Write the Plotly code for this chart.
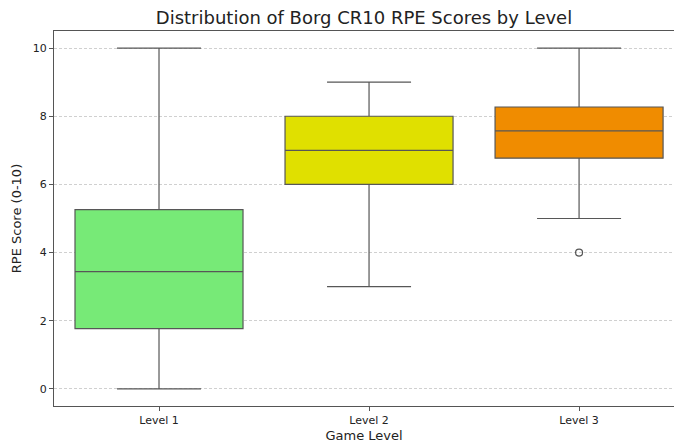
import plotly.graph_objects as go

levels = ["Level 1", "Level 2", "Level 3"]
lower_fence = [0, 3, 5]
q1 = [1.77, 6, 6.77]
median = [3.44, 7, 7.57]
q3 = [5.26, 8, 8.27]
upper_fence = [10, 9, 10]
outlier_levels = ["Level 3"]
outlier_values = [4]
colors = ["#77ea77", "#e0e000", "#f08c00"]

fig = go.Figure()
for i, lv in enumerate(levels):
    fig.add_trace(go.Box(
        x=[lv], q1=[q1[i]], median=[median[i]], q3=[q3[i]],
        lowerfence=[lower_fence[i]], upperfence=[upper_fence[i]],
        fillcolor=colors[i], line=dict(color="#575757", width=1.2),
        width=0.8, whiskerwidth=0.5, boxpoints=False, showlegend=False,
        hoverinfo="skip"))

fig.add_trace(go.Scatter(
    x=outlier_levels, y=outlier_values, mode="markers",
    marker=dict(symbol="circle-open", size=7, color="#575757", line=dict(width=1.2)),
    showlegend=False, hoverinfo="skip"))

fig.update_layout(
    width=674, height=448,
    margin=dict(l=54, r=0, t=31, b=42),
    paper_bgcolor="white", plot_bgcolor="white",
    font=dict(family="DejaVu Sans", color="#222222"),
    title=dict(text="Distribution of Borg CR10 RPE Scores by Level",
               x=0.5, xanchor="center", xref="paper", y=0.96, yanchor="middle",
               font=dict(size=18, color="#222222")),
)
fig.update_xaxes(
    type="category", categoryorder="array", categoryarray=levels,
    range=[-0.5, 2.452], showgrid=False, showline=True, linecolor="#555555",
    linewidth=1, mirror=True, ticks="outside", ticklen=4, tickcolor="#555555",
    tickfont=dict(size=11), title=dict(text="Game Level", font=dict(size=13), standoff=4),
    zeroline=False, automargin=False)
fig.update_yaxes(
    range=[-0.5, 10.5], tickvals=[0, 2, 4, 6, 8, 10],
    showgrid=True, gridcolor="#d0d0d0", griddash="3px,2px", gridwidth=0.8,
    showline=True, linecolor="#555555", linewidth=1, mirror=True,
    ticks="outside", ticklen=4, tickcolor="#555555",
    tickfont=dict(size=11), title=dict(text="RPE Score (0-10)", font=dict(size=13), standoff=8),
    zeroline=False, automargin=False)

fig.write_html("out.html", config={"displayModeBar": False},
               post_script="document.body.style.margin='0';document.body.style.overflow='hidden';")
